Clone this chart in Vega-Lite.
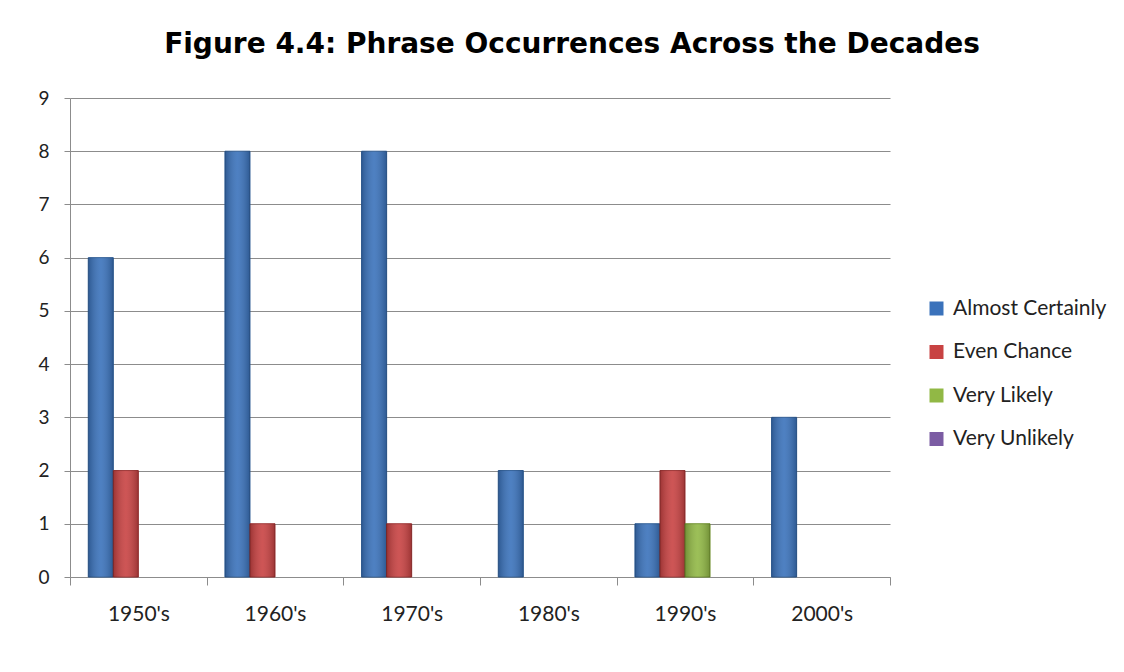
{
  "$schema": "https://vega.github.io/schema/vega-lite/v6.json",
  "autosize": "none",
  "width": 820,
  "height": 479,
  "padding": {"left": 70, "top": 98, "right": 234, "bottom": 95},
  "background": "white",
  "title": {
    "text": "Figure 4.4: Phrase Occurrences Across the Decades",
    "font": "DejaVu Sans",
    "fontSize": 28,
    "fontWeight": "bold",
    "color": "#000000",
    "anchor": "middle",
    "dx": 92,
    "offset": 30
  },
  "data": {
    "values": [
      {"decade": "1950's", "phrase": "Almost Certainly", "count": 6},
      {"decade": "1950's", "phrase": "Even Chance", "count": 2},
      {"decade": "1960's", "phrase": "Almost Certainly", "count": 8},
      {"decade": "1960's", "phrase": "Even Chance", "count": 1},
      {"decade": "1970's", "phrase": "Almost Certainly", "count": 8},
      {"decade": "1970's", "phrase": "Even Chance", "count": 1},
      {"decade": "1980's", "phrase": "Almost Certainly", "count": 2},
      {"decade": "1990's", "phrase": "Almost Certainly", "count": 1},
      {"decade": "1990's", "phrase": "Even Chance", "count": 2},
      {"decade": "1990's", "phrase": "Very Likely", "count": 1},
      {"decade": "2000's", "phrase": "Almost Certainly", "count": 3}
    ]
  },
  "encoding": {
    "x": {
      "field": "decade",
      "type": "nominal",
      "sort": null,
      "scale": {"domain": ["1950's", "1960's", "1970's", "1980's", "1990's", "2000's"], "paddingInner": 0, "paddingOuter": 0},
      "axis": {
        "title": null,
        "labelAngle": 0,
        "labelFont": "Lato",
        "labelFontSize": 21,
        "labelColor": "#222222",
        "labelPadding": 18,
        "tickBand": "extent",
        "tickSize": 8,
        "tickColor": "#8c8c8c",
        "domainColor": "#8c8c8c",
        "grid": false
      }
    },
    "xOffset": {
      "field": "phrase",
      "type": "nominal",
      "scale": {"domain": ["Almost Certainly", "Even Chance", "Very Likely", "Very Unlikely"], "paddingInner": 0, "paddingOuter": 0.73}
    },
    "y": {
      "field": "count",
      "type": "quantitative",
      "scale": {"domain": [0, 9], "nice": false},
      "axis": {
        "title": null,
        "values": [0, 1, 2, 3, 4, 5, 6, 7, 8, 9],
        "labelFont": "Lato",
        "labelFontSize": 19,
        "labelColor": "#222222",
        "labelPadding": 15,
        "tickSize": 6,
        "tickColor": "#8c8c8c",
        "domainColor": "#8c8c8c",
        "gridColor": "#8c8c8c",
        "gridWidth": 1.2
      }
    }
  },
  "layer": [
    {
      "mark": {"type": "bar", "strokeWidth": 1},
      "encoding": {
        "color": {
          "field": "phrase",
          "type": "nominal",
          "scale": {
            "domain": ["Almost Certainly", "Even Chance", "Very Likely", "Very Unlikely"],
            "range": ["#3a72bb", "#c84242", "#91b845", "#7b5ca3"]
          },
          "legend": {
            "title": null,
            "orient": "none",
            "legendX": 856,
            "legendY": 200,
            "symbolType": "square",
            "symbolSize": 196,
            "symbolStrokeWidth": 0,
            "symbolOpacity": 1,
            "labelFont": "Lato",
            "labelFontSize": 21,
            "labelColor": "#222222",
            "labelOffset": 6,
            "rowPadding": 21.5
          }
        },
        "stroke": {
          "field": "phrase",
          "type": "nominal",
          "scale": {
            "domain": ["Almost Certainly", "Even Chance", "Very Likely", "Very Unlikely"],
            "range": ["#2b5a94", "#9a2f2f", "#6e8f2c", "#5d4480"]
          },
          "legend": null
        }
      }
    },
    {
      "mark": {
        "type": "bar",
        "strokeWidth": 0,
        "color": {
          "gradient": "linear",
          "x1": 0, "y1": 0, "x2": 1, "y2": 0,
          "stops": [
            {"offset": 0, "color": "rgba(0,0,0,0.22)"},
            {"offset": 0.5, "color": "rgba(255,255,255,0.1)"},
            {"offset": 1, "color": "rgba(0,0,0,0.22)"}
          ]
        }
      }
    }
  ],
  "config": {
    "view": {"stroke": null}
  }
}
